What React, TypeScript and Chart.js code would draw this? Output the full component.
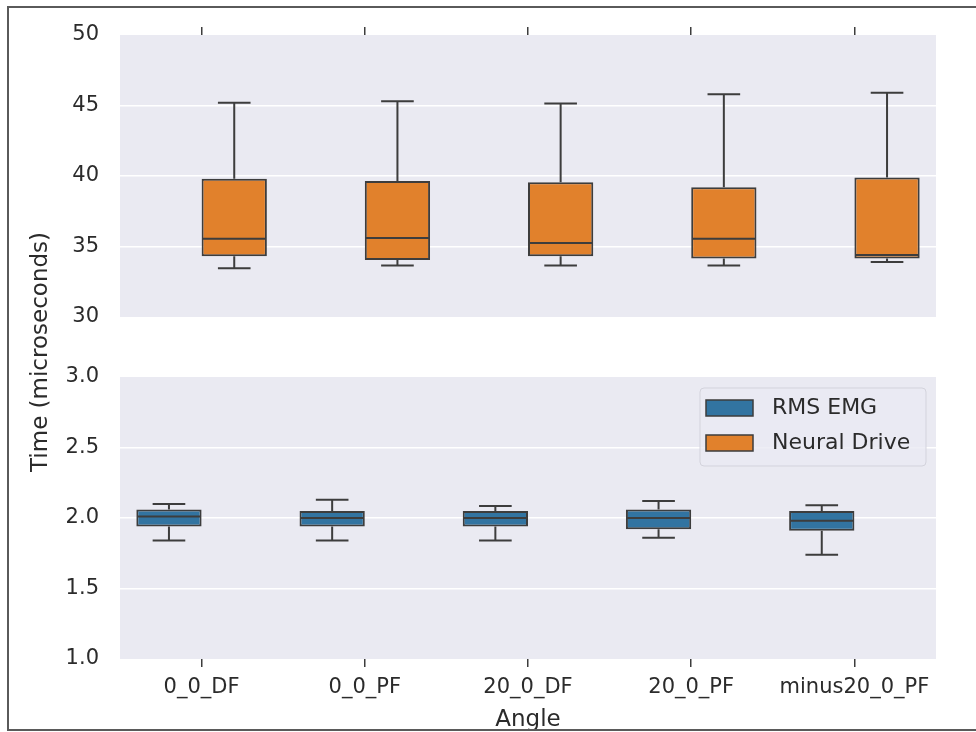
import React, { useEffect, useRef } from 'react';
import { Chart, registerables } from 'chart.js';

Chart.register(...registerables);

const categories = ['0_0_DF', '0_0_PF', '20_0_DF', '20_0_PF', 'minus20_0_PF'];
const seriesNames = ['RMS EMG', 'Neural Drive'];

const rmsMin = [1.84, 1.84, 1.84, 1.86, 1.74];
const rmsQ1 = [1.94, 1.94, 1.94, 1.92, 1.91];
const rmsMedian = [2.01, 2.0, 2.0, 2.0, 1.98];
const rmsQ3 = [2.06, 2.05, 2.05, 2.06, 2.05];
const rmsMax = [2.1, 2.13, 2.085, 2.12, 2.09];

const neuralMin = [33.45, 33.65, 33.65, 33.65, 33.9];
const neuralQ1 = [34.3, 34.05, 34.3, 34.15, 34.15];
const neuralMedian = [35.55, 35.6, 35.25, 35.55, 34.4];
const neuralQ3 = [39.8, 39.65, 39.55, 39.2, 39.9];
const neuralMax = [45.2, 45.3, 45.15, 45.8, 45.9];

const topRange = [30, 50];
const bottomRange = [1.0, 3.0];

const FONT = "'DejaVu Sans', sans-serif";
const TEXT = '#2b2b2b';
const LINE = '#3d3d3d';
const BG = '#EAEAF2';
const BLUE = '#3274A1';
const ORANGE = '#E1812C';

const whiskers = [
  { min: rmsMin, med: rmsMedian, q1: rmsQ1, q3: rmsQ3, max: rmsMax },
  { min: neuralMin, med: neuralMedian, q1: neuralQ1, q3: neuralQ3, max: neuralMax },
];

export default function App() {
  const ref = useRef<HTMLCanvasElement>(null);

  useEffect(() => {
    const canvas = ref.current!;

    const panelPlugin = {
      id: 'panels',
      beforeDraw(chart: any) {
        const { ctx, chartArea } = chart;
        ctx.save();
        ctx.fillStyle = '#ffffff';
        ctx.fillRect(0, 0, chart.width, chart.height);
        ctx.fillStyle = BG;
        ['yTop', 'yBot'].forEach((id) => {
          const s = chart.scales[id];
          ctx.fillRect(chartArea.left, s.top, chartArea.right - chartArea.left, s.bottom - s.top);
        });
        ctx.restore();
      },
      afterDatasetsDraw(chart: any) {
        const { ctx } = chart;
        ctx.save();
        ctx.strokeStyle = LINE;
        ctx.lineWidth = 2;
        chart.data.datasets.forEach((ds: any, di: number) => {
          const meta = chart.getDatasetMeta(di);
          const ys = chart.scales[meta.yAxisID];
          const w = whiskers[di];
          meta.data.forEach((el: any, j: number) => {
            const x = el.x;
            const bw = el.width;
            const pMin = ys.getPixelForValue(w.min[j]);
            const pMax = ys.getPixelForValue(w.max[j]);
            const pQ1 = ys.getPixelForValue(w.q1[j]);
            const pQ3 = ys.getPixelForValue(w.q3[j]);
            const pMed = ys.getPixelForValue(w.med[j]);
            ctx.beginPath();
            ctx.moveTo(x, pQ3);
            ctx.lineTo(x, pMax);
            ctx.moveTo(x - bw / 4, pMax);
            ctx.lineTo(x + bw / 4, pMax);
            ctx.moveTo(x, pQ1);
            ctx.lineTo(x, pMin);
            ctx.moveTo(x - bw / 4, pMin);
            ctx.lineTo(x + bw / 4, pMin);
            ctx.moveTo(x - bw / 2 + 1, pMed);
            ctx.lineTo(x + bw / 2 - 1, pMed);
            ctx.stroke();
          });
        });
        ctx.restore();
      },
      afterDraw(chart: any) {
        const { ctx, chartArea } = chart;
        const sb = chart.scales.yBot;
        ctx.save();
        // legend
        const lw = 226;
        const lh = 78;
        const lx = chartArea.right - 10 - lw;
        const ly = sb.top + 11;
        ctx.beginPath();
        ctx.roundRect(lx, ly, lw, lh, 4);
        ctx.fillStyle = 'rgba(234,234,242,0.8)';
        ctx.fill();
        ctx.strokeStyle = '#d3d3dc';
        ctx.lineWidth = 1;
        ctx.stroke();
        chart.data.datasets.forEach((ds: any, i: number) => {
          const cy = ly + 20 + i * 35;
          ctx.fillStyle = ds.backgroundColor;
          ctx.fillRect(lx + 6, cy - 8, 47, 16);
          ctx.strokeStyle = LINE;
          ctx.lineWidth = 1.5;
          ctx.strokeRect(lx + 6, cy - 8, 47, 16);
          ctx.fillStyle = TEXT;
          ctx.font = `22px ${FONT}`;
          ctx.textAlign = 'left';
          ctx.textBaseline = 'middle';
          ctx.fillText(ds.label, lx + 72, cy);
        });
        // y axis title
        ctx.translate(41, (chart.scales.yTop.top + sb.bottom) / 2 + 5);
        ctx.rotate(-Math.PI / 2);
        ctx.fillStyle = TEXT;
        ctx.font = `23px ${FONT}`;
        ctx.textAlign = 'center';
        ctx.textBaseline = 'middle';
        ctx.fillText('Time (microseconds)', 0, 0);
        ctx.restore();
        // frame
        ctx.save();
        ctx.strokeStyle = '#5a5a5a';
        ctx.lineWidth = 2;
        ctx.beginPath();
        ctx.moveTo(chart.width, 7);
        ctx.lineTo(8, 7);
        ctx.lineTo(8, 730);
        ctx.lineTo(chart.width, 730);
        ctx.stroke();
        ctx.restore();
      },
    };

    const hideEdges = (range: number[]) => (c: any) =>
      c.tick && (c.tick.value === range[0] || c.tick.value === range[1]) ? 'rgba(0,0,0,0)' : '#ffffff';

    const chart = new Chart(canvas, {
      type: 'bar',
      data: {
        labels: categories,
        datasets: [
          {
            label: seriesNames[0],
            data: categories.map((_, i) => [rmsQ1[i], rmsQ3[i]]) as any,
            yAxisID: 'yBot',
            backgroundColor: BLUE,
            borderColor: LINE,
            borderWidth: 2,
            borderSkipped: false,
            categoryPercentage: 0.8,
            barPercentage: 1.0,
          },
          {
            label: seriesNames[1],
            data: categories.map((_, i) => [neuralQ1[i], neuralQ3[i]]) as any,
            yAxisID: 'yTop',
            backgroundColor: ORANGE,
            borderColor: LINE,
            borderWidth: 2,
            borderSkipped: false,
            categoryPercentage: 0.8,
            barPercentage: 1.0,
          },
        ],
      },
      options: {
        responsive: false,
        animation: false,
        devicePixelRatio: 1,
        layout: { padding: { left: 0, right: 40, top: 0, bottom: 0 } },
        plugins: { legend: { display: false }, tooltip: { enabled: false } },
        scales: {
          x: {
            type: 'category',
            position: 'bottom',
            offset: true,
            grid: { offset: false, drawOnChartArea: false, drawTicks: true, tickLength: 8, color: LINE, lineWidth: 1.5 },
            border: { display: false },
            ticks: { font: { family: FONT, size: 21 }, color: TEXT, padding: 8, maxRotation: 0, autoSkip: false },
            title: { display: true, text: 'Angle', font: { family: FONT, size: 23, lineHeight: 1 }, color: TEXT, padding: 0 },
            afterFit: (s: any) => { s.height = 73; },
          },
          xTop: {
            type: 'category',
            position: 'top',
            offset: true,
            grid: { offset: false, drawOnChartArea: false, drawTicks: true, tickLength: 8, color: LINE, lineWidth: 1.5 },
            border: { display: false },
            ticks: { display: false },
            afterFit: (s: any) => { s.height = 35; },
          },
          yTop: {
            type: 'linear',
            position: 'left',
            stack: 'v',
            stackWeight: 282,
            weight: 3,
            min: topRange[0],
            max: topRange[1],
            grid: { color: hideEdges(topRange), lineWidth: 1.5, drawTicks: false },
            border: { display: false },
            ticks: { stepSize: 5, font: { family: FONT, size: 21 }, color: TEXT, padding: 21, callback: (v: any) => String(v) },
            afterFit: (s: any) => { s.width = 120; },
          },
          yGap: {
            type: 'linear',
            position: 'left',
            stack: 'v',
            stackWeight: 60,
            weight: 2,
            grid: { display: false },
            border: { display: false },
            ticks: { display: false },
            afterFit: (s: any) => { s.width = 120; },
          },
          yBot: {
            type: 'linear',
            position: 'left',
            stack: 'v',
            stackWeight: 282,
            weight: 1,
            min: bottomRange[0],
            max: bottomRange[1],
            grid: { color: hideEdges(bottomRange), lineWidth: 1.5, drawTicks: false },
            border: { display: false },
            ticks: { stepSize: 0.5, font: { family: FONT, size: 21 }, color: TEXT, padding: 21, callback: (v: any) => Number(v).toFixed(1) },
            afterFit: (s: any) => { s.width = 120; },
          },
        } as any,
      },
      plugins: [panelPlugin],
    });

    return () => chart.destroy();
  }, []);

  return (
    <div style={{ position: 'fixed', left: 0, top: 0, width: 976, height: 732, background: '#fff' }}>
      <canvas ref={ref} width={976} height={732} style={{ width: 976, height: 732, display: 'block' }} />
    </div>
  );
}
